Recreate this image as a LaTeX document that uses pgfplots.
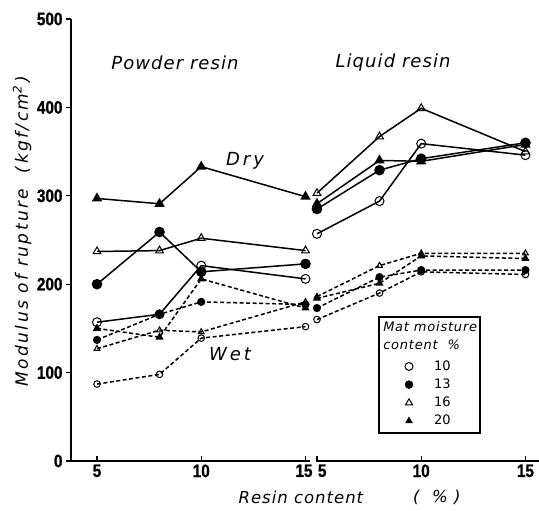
\documentclass[border=0pt]{standalone}
\usepackage{pgfplots}
\usepackage{pgfplotstable}
\pgfplotsset{compat=1.18}
\usepackage{fontspec}
\setmainfont{DejaVu Sans}
\newfontfamily\labfont{DejaVu Sans}[LetterSpace=6.0]
\newfontfamily\ylabfont{DejaVu Sans}[LetterSpace=14.0]
\newfontfamily\tickfont{Liberation Sans}[FakeStretch=0.85, FakeBold=1.2]

\pgfplotstableread{
x d10 d13 d16 d20 w10 w13 w16 w20
5 157 200 237 297 87 137 127 150
8 166 259 238 291 98 166 148 140
10 221 214 252 333 139 180 146 206
15 206 223 238 299 152 177 180 173
}\powder
\pgfplotstableread{
x d10 d13 d16 d20 w10 w13 w16 w20
5 257 285 303 291 160 173 186 184
8 294 329 367 340 190 208 221 201
10 359 342 399 339 214 216 235 232
15 346 360 350 358 211 216 235 229
}\liquid

\pgfplotsset{
  dry/.style={black, line width=1.5pt, mark size=4.5pt},
  wet/.style={black, line width=1.5pt, dash pattern=on 4pt off 2.5pt, mark size=3.3pt},
  oc/.style={mark=o, mark options={solid, fill=white, line width=1pt}},
  fc/.style={mark=*, mark options={solid, fill=black}},
  ot/.style={mark=triangle, mark options={solid, fill=white, line width=1pt}},
  ft/.style={mark=triangle*, mark options={solid, fill=black}},
}

\begin{document}
\begin{tikzpicture}
\useasboundingbox (-71pt,-50pt) rectangle (468pt,461pt);
\begin{axis}[
  at={(0,0)}, anchor=south west,
  scale only axis, width=468pt, height=442pt,
  xmin=3.753, xmax=26.2, ymin=0, ymax=500,
  clip=false,
  axis y line*=left, axis x line*=bottom,
  x axis line style={draw=none},
  y axis line style={line width=1.5pt},
  xtick={5,10,15,15.55,20.55,25.55},
  xticklabels={5,10,{\makebox[0pt][r]{15\kern-7pt}},{\makebox[0pt][l]{\kern1pt 5}},10,15},
  ytick={0,100,...,500},
  xtick align=inside, ytick align=outside,
  major tick length=5pt,
  tick style={line width=1.3pt, black},
  tick label style={font=\tickfont\bfseries\fontsize{18}{20}\selectfont},
  /pgf/number format/assume math mode=true,
  legend style={draw=none, fill=none, at={(axis cs:19.62,118)}, anchor=north west,
    font=\fontsize{13}{15}\selectfont, row sep=3pt, column sep=19pt},
  legend cell align=left,
]
\addlegendimage{only marks, oc, mark size=4pt}\addlegendentry{10}
\addlegendimage{only marks, fc, mark size=4pt}\addlegendentry{13}
\addlegendimage{only marks, ot, mark size=4pt}\addlegendentry{16}
\addlegendimage{only marks, ft, mark size=4pt}\addlegendentry{20}

% wet, powder
\addplot[wet, oc] table[x=x, y=w10]{\powder};
\addplot[wet, fc] table[x=x, y=w13]{\powder};
\addplot[wet, ot] table[x=x, y=w16]{\powder};
\addplot[wet, ft] table[x=x, y=w20]{\powder};
% wet, liquid
\addplot[wet, oc] table[x expr=\thisrow{x}+10.55, y=w10]{\liquid};
\addplot[wet, fc] table[x expr=\thisrow{x}+10.55, y=w13]{\liquid};
\addplot[wet, ot] table[x expr=\thisrow{x}+10.55, y=w16]{\liquid};
\addplot[wet, ft] table[x expr=\thisrow{x}+10.55, y=w20]{\liquid};
% dry, powder
\addplot[dry, oc] table[x=x, y=d10]{\powder};
\addplot[dry, fc] table[x=x, y=d13]{\powder};
\addplot[dry, ot] table[x=x, y=d16]{\powder};
\addplot[dry, ft] table[x=x, y=d20]{\powder};
% dry, liquid
\addplot[dry, oc] table[x expr=\thisrow{x}+10.55, y=d10]{\liquid};
\addplot[dry, fc] table[x expr=\thisrow{x}+10.55, y=d13]{\liquid};
\addplot[dry, ot] table[x expr=\thisrow{x}+10.55, y=d16]{\liquid};
\addplot[dry, ft] table[x expr=\thisrow{x}+10.55, y=d20]{\liquid};

% broken x axis line
\draw[line width=1.5pt] (axis cs:3.753,0) -- (axis cs:15.22,0);
\draw[line width=1.5pt] (axis cs:15.5,0) -- (axis cs:26.2,0);

% labels
\node[font=\labfont\itshape\fontsize{18}{20}\selectfont] at (axis cs:8.74,451) {Powder resin};
\node[font=\labfont\itshape\fontsize{18}{20}\selectfont] at (axis cs:19.2,451) {Liquid resin};
\node[font=\labfont\itshape\fontsize{18}{20}\selectfont] at (axis cs:12.1,340) {D\,r\,y};
\node[font=\labfont\itshape\fontsize{18}{20}\selectfont] at (axis cs:11.38,121) {W\,e\,t};
\node[xshift=-49pt, rotate=90, font=\ylabfont\itshape\fontsize{17}{19}\selectfont] at (axis cs:3.753,260) {Modulus of rupture\ \ (\,kgf/cm\textsuperscript{2}\,)};
\node[yshift=-36pt, font=\labfont\itshape\fontsize{16.5}{18}\selectfont] at (axis cs:14.78,0) {Resin content};
\node[yshift=-36pt, font=\labfont\itshape\fontsize{16.5}{18}\selectfont] at (axis cs:21.3,0) {(\ \ \%\ )};

% legend frame and title
\draw[line width=1.3pt] (axis cs:18.52,163) rectangle (axis cs:23.37,31.7);
\node[anchor=north west, align=left, inner sep=0pt, font=\labfont\itshape\fontsize{13}{18}\selectfont] at (axis cs:18.72,158) {Mat moisture\\content\ \ \%};
\end{axis}
\end{tikzpicture}
\end{document}
